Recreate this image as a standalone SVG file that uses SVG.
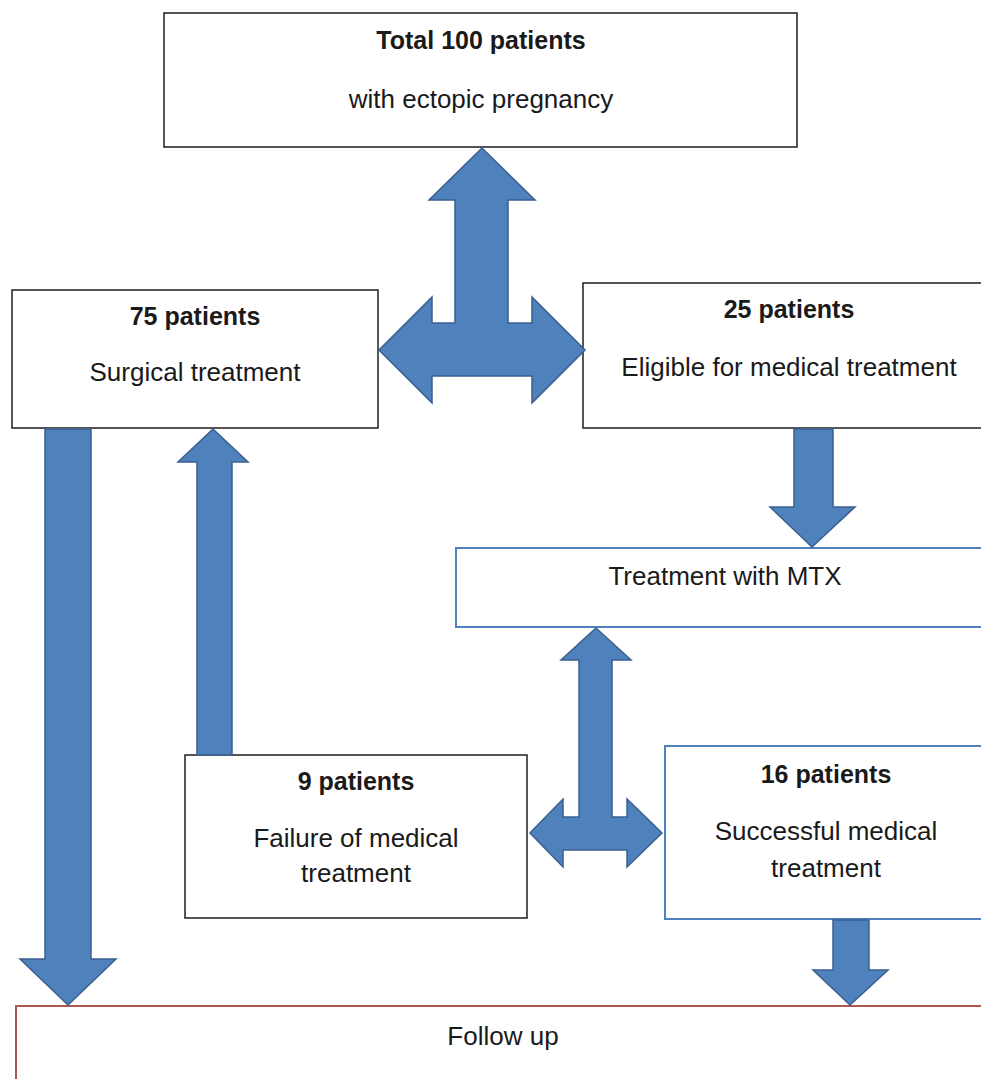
<svg xmlns="http://www.w3.org/2000/svg" width="981" height="1079" viewBox="0 0 981 1079">
<style>
.box{fill:#ffffff;stroke:#1e1e1e;stroke-width:1.5}
.bbox{fill:#ffffff;stroke:#4f81bd;stroke-width:2}
.rbox{fill:#ffffff;stroke:#b0564f;stroke-width:2}
.arrow{fill:#4f81bd;stroke:#3a5f8f;stroke-width:1.5;stroke-linejoin:miter}
text{font-family:"Liberation Sans",Arial,sans-serif;fill:#1a1a1a;text-anchor:middle}
.b{font-weight:bold;font-size:25px}
.r{font-size:26px}
</style>
<rect width="981" height="1079" fill="#ffffff"/>
<g id="node-total">
<rect class="box" x="164" y="13" width="633" height="134"/>
<text class="b" x="481" y="49">Total 100 patients</text>
<text class="r" x="481" y="108">with ectopic pregnancy</text>
</g>
<g id="node-surgical">
<rect class="box" x="12" y="290" width="366" height="138"/>
<text class="b" x="195" y="325">75 patients</text>
<text class="r" x="195" y="381">Surgical treatment</text>
</g>
<g id="node-eligible">
<rect class="box" x="583" y="283" width="420" height="145"/>
<text class="b" x="789" y="318">25 patients</text>
<text class="r" x="789" y="376">Eligible for medical treatment</text>
</g>
<g id="node-mtx">
<rect class="bbox" x="456" y="548" width="550" height="79"/>
<text class="r" x="725" y="585">Treatment with MTX</text>
</g>
<g id="node-failure">
<rect class="box" x="185" y="755" width="342" height="163"/>
<text class="b" x="356" y="790">9 patients</text>
<text class="r" x="356" y="847">Failure of medical</text>
<text class="r" x="356" y="882">treatment</text>
</g>
<g id="node-success">
<rect class="bbox" x="665" y="746" width="340" height="173"/>
<text class="b" x="826" y="783">16 patients</text>
<text class="r" x="826" y="840">Successful medical</text>
<text class="r" x="826" y="877">treatment</text>
</g>
<g id="node-followup">
<rect class="rbox" x="16" y="1006" width="990" height="100"/>
<text class="r" x="503" y="1045">Follow up</text>
</g>
<g id="connectors">
<path class="arrow" d="M482,148 L535,200 L508,200 L508,323 L532,323 L532,297 L585,350 L532,403 L532,376 L432,376 L432,403 L379,350 L432,297 L432,323 L455,323 L455,200 L429,200 Z"/>
<path class="arrow" d="M794,429 L833,429 L833,507 L855,507 L812,547 L770,507 L794,507 Z"/>
<path class="arrow" d="M45,429 L91,429 L91,959 L116,959 L68,1005 L20,959 L45,959 Z"/>
<path class="arrow" d="M213,429 L248,462 L232,462 L232,755 L197,755 L197,462 L178,462 Z"/>
<path class="arrow" d="M596,628 L631,660 L612,660 L612,817 L627,817 L627,799 L662,833 L627,867 L627,850 L563,850 L563,867 L530,833 L563,799 L563,817 L579,817 L579,660 L561,660 Z"/>
<path class="arrow" d="M833,920 L869,920 L869,970 L888,970 L850,1005 L813,970 L833,970 Z"/>
</g>
</svg>
